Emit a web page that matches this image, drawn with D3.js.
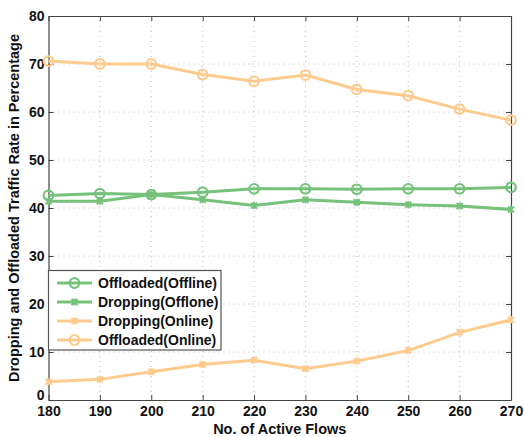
<!DOCTYPE html>
<html><head><meta charset="utf-8">
<script src="https://cdn.jsdelivr.net/npm/d3@7"></script>
<style>body{margin:0;background:#fff}svg{display:block}text{font-family:"Liberation Sans",Arial,sans-serif;font-weight:bold}</style>
</head><body>
<script>
const flows = [180,190,200,210,220,230,240,250,260,270];
const offloadedOffline = [42.6,43.0,42.8,43.3,44.0,44.0,43.9,44.0,44.0,44.3];
const droppingOffline = [41.4,41.4,42.8,41.7,40.5,41.7,41.2,40.7,40.4,39.7];
const droppingOnline = [3.8,4.3,5.9,7.4,8.3,6.5,8.1,10.3,14.1,16.7];
const offloadedOnline = [70.6,70.0,70.0,67.8,66.4,67.7,64.7,63.4,60.6,58.3];
const yTicks = [0,10,20,30,40,50,60,70,80];
const seriesNames = ["Offloaded(Offline)","Dropping(Offlone)","Dropping(Online)","Offloaded(Online)"];
const green = "#76c27b", orange = "#fdcb8d";
const series = [
  {name:seriesNames[0], values:offloadedOffline, color:green, marker:"o"},
  {name:seriesNames[1], values:droppingOffline, color:green, marker:"x"},
  {name:seriesNames[2], values:droppingOnline, color:orange, marker:"x"},
  {name:seriesNames[3], values:offloadedOnline, color:orange, marker:"o"}
];
const W=524,H=437, L=48.5, R=511, T=16, B=400;
const svg=d3.select("body").append("svg").attr("width",W).attr("height",H);
const x=d3.scaleLinear().domain([180,270]).range([L,R]);
const y=d3.scaleLinear().domain([0,80]).range([B,T]);
// grid
const g=svg.append("g");
g.selectAll(".gx").data(flows.slice(1,-1)).join("line").attr("x1",d=>x(d)).attr("x2",d=>x(d)).attr("y1",T).attr("y2",B)
 .attr("stroke","#bcbcbc").attr("stroke-dasharray","1,4").attr("stroke-width",1);
g.selectAll(".gy").data(yTicks.slice(1,-1)).join("line").attr("y1",d=>y(d)).attr("y2",d=>y(d)).attr("x1",L).attr("x2",R)
 .attr("stroke","#bcbcbc").attr("stroke-dasharray","1,4").attr("stroke-width",1);
// axes
svg.append("g").attr("transform",`translate(0,${B})`).call(d3.axisBottom(x).tickValues(flows).tickSizeInner(-5).tickSizeOuter(0).tickPadding(6));
const ay=svg.append("g").attr("transform",`translate(${L},0)`).call(d3.axisLeft(y).tickValues(yTicks).tickSizeInner(-5).tickSizeOuter(0).tickPadding(4));
svg.append("g").attr("transform",`translate(0,${T})`).call(d3.axisTop(x).tickValues(flows).tickSizeInner(-5).tickSizeOuter(0).tickFormat(""));
svg.append("g").attr("transform",`translate(${R},0)`).call(d3.axisRight(y).tickValues(yTicks).tickSizeInner(-5).tickSizeOuter(0).tickFormat(""));
svg.selectAll(".domain").attr("stroke","#444").attr("stroke-width",1.2);
svg.selectAll(".tick line").attr("stroke","#444");
svg.selectAll(".tick text").attr("font-size",14).attr("fill","#111").attr("font-family","Liberation Sans, Arial, sans-serif").attr("font-weight","bold");
ay.selectAll(".tick text").filter(d=>d===0).attr("dy","-0.05em");
// lines
const line=d3.line().x((d,i)=>x(flows[i])).y(d=>y(d));
function marker(sel, type, color){
  if(type==="o"){
    sel.append("circle").attr("r",4.8).attr("fill","none").attr("stroke",color).attr("stroke-width",2.2);
  } else {
    sel.append("path").attr("d","M-3,-3L3,3M-3,3L3,-3M0,-3.5L0,3.5").attr("stroke",color).attr("stroke-width",2).attr("fill","none");
  }
}
series.forEach(s=>{
  svg.append("path").datum(s.values).attr("d",line).attr("fill","none").attr("stroke",s.color).attr("stroke-width",3);
  s.values.forEach((v,i)=>{
    const m=svg.append("g").attr("transform",`translate(${x(flows[i])},${y(v)})`);
    marker(m,s.marker,s.color);
  });
});
// legend
const lg=svg.append("g");
lg.append("rect").attr("x",48.5).attr("y",270.5).attr("width",172.5).attr("height",79.5).attr("fill","#fff").attr("stroke","#555").attr("stroke-width",1.2);
series.forEach((s,i)=>{
  const yy=283+i*19;
  lg.append("line").attr("x1",57).attr("x2",92).attr("y1",yy).attr("y2",yy).attr("stroke",s.color).attr("stroke-width",3);
  marker(lg.append("g").attr("transform",`translate(74.5,${yy})`),s.marker,s.color);
  lg.append("text").attr("x",98).attr("y",yy).attr("dy","0.35em").attr("font-size",14).attr("fill","#111").text(s.name);
});
// axis labels
svg.append("text").attr("x",(L+R)/2).attr("y",434).attr("text-anchor","middle").attr("font-size",14.5).attr("fill","#111").text("No. of Active Flows");
svg.append("text").attr("transform",`translate(19,${(T+B)/2}) rotate(-90)`).attr("text-anchor","middle").attr("font-size",14.5).attr("fill","#111").text("Dropping and Offloaded Traffic Rate in Percentage");
</script>
</body></html>
